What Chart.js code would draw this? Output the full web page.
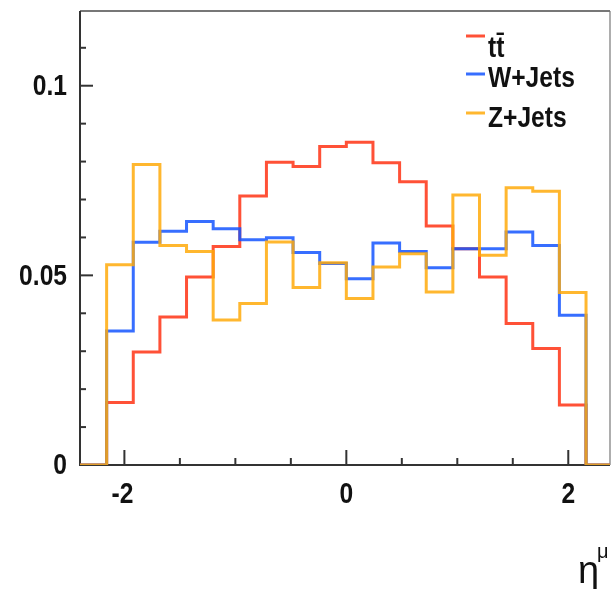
<!DOCTYPE html>
<html>
<head>
<meta charset="utf-8">
<script src="https://cdn.jsdelivr.net/npm/chart.js@4.4.1/dist/chart.umd.min.js"></script>
<style>
html,body{margin:0;padding:0;background:#fff;}
#wrap{width:612px;height:589px;position:relative;}
</style>
</head>
<body>
<div id="wrap"><canvas id="c" width="612" height="589"></canvas></div>
<script>
// Bin low edges of eta^mu histogram (width 0.24)
const binLowEdges = [-2.4,-2.16,-1.92,-1.68,-1.44,-1.2,-0.96,-0.72,-0.48,-0.24,0,0.24,0.48,0.72,0.96,1.2,1.44,1.68,1.92,2.16];
const upperEdge = 2.4;
const seriesLabels = ["t\u0074\u0304", "W+Jets", "Z+Jets"];
const ttbar  = [0,0.0165,0.0298,0.0390,0.0496,0.0576,0.0709,0.0798,0.0787,0.0840,0.0851,0.0797,0.0747,0.0630,0.0570,0.0496,0.0373,0.0307,0.0158,0];
const wjets  = [0,0.0353,0.0587,0.0616,0.0642,0.0623,0.0594,0.0599,0.0560,0.0531,0.0491,0.0585,0.0563,0.0520,0.0570,0.0570,0.0614,0.0579,0.0395,0];
const zjets  = [0,0.0528,0.0792,0.0579,0.0563,0.0382,0.0426,0.0588,0.0468,0.0533,0.0439,0.0522,0.0557,0.0456,0.0712,0.0553,0.0731,0.0722,0.0455,0];
const xTickLabels = ["-2", "0", "2"];
const yTickLabels = ["0", "0.05", "0.1"];

function toSteps(vals){
  const pts = binLowEdges.map((x,i)=>({x:x, y:vals[i]}));
  pts.push({x:upperEdge, y:vals[vals.length-1]});
  return pts;
}

const colors = ["rgba(255,50,20,0.85)","rgba(20,85,255,0.85)","rgba(255,170,10,0.85)"];
const FONT = '"Liberation Sans", Arial, sans-serif';
const SQ = 0.82; // horizontal squeeze of text

function narrowText(ctx, txt, x, y, align){
  ctx.save();
  ctx.translate(x, y);
  ctx.scale(SQ, 1);
  ctx.textAlign = align;
  ctx.fillText(txt, 0, 0);
  ctx.restore();
}

const decor = {
  id:'decor',
  beforeDatasetsDraw(chart){
    const ctx = chart.ctx, a = chart.chartArea;
    const xs = chart.scales.x, ys = chart.scales.y;
    ctx.save();
    // frame
    ctx.strokeStyle = '#777'; ctx.lineWidth = 2;
    ctx.beginPath(); ctx.moveTo(a.left, a.top); ctx.lineTo(a.right, a.top); ctx.stroke();
    ctx.lineWidth = 1.2;
    ctx.beginPath(); ctx.moveTo(a.right, a.top); ctx.lineTo(a.right, a.bottom); ctx.stroke();
    ctx.strokeStyle = '#333'; ctx.lineWidth = 2;
    ctx.beginPath(); ctx.moveTo(a.left, a.top); ctx.lineTo(a.left, a.bottom); ctx.lineTo(a.right, a.bottom); ctx.stroke();
    // y ticks (inside), minor every 0.01
    for (let k=0;k<=11;k++){
      const v = k*0.01; const y = ys.getPixelForValue(v);
      const len = (k%5===0) ? 13 : 6;
      ctx.beginPath(); ctx.moveTo(a.left, y); ctx.lineTo(a.left+len, y); ctx.stroke();
    }
    // x ticks (inside), minor every 0.5
    for (let k=-4;k<=4;k++){
      const v = k*0.5; const x = xs.getPixelForValue(v);
      const len = (k%4===0) ? 15 : 7;
      ctx.beginPath(); ctx.moveTo(x, a.bottom); ctx.lineTo(x, a.bottom-len); ctx.stroke();
    }
    // tick labels
    ctx.fillStyle = '#111';
    ctx.font = 'bold 30px ' + FONT;
    ctx.textBaseline = 'middle';
    yTickLabels.forEach(t=>{ narrowText(ctx, t, 67, ys.getPixelForValue(parseFloat(t)) + 1, 'right'); });
    ctx.textBaseline = 'alphabetic';
    xTickLabels.forEach(t=>{ narrowText(ctx, t, xs.getPixelForValue(parseFloat(t)) + (t[0]==='-'?-2:0), 503, 'center'); });
    ctx.restore();
  },
  afterDraw(chart){
    const ctx = chart.ctx;
    ctx.save();
    // legend
    const lineY = [36, 74, 113];
    const textY = [57, 87, 127];
    chart.data.datasets.forEach((ds,i)=>{
      ctx.strokeStyle = ds.borderColor; ctx.lineWidth = 3;
      ctx.beginPath(); ctx.moveTo(466, lineY[i]); ctx.lineTo(485, lineY[i]); ctx.stroke();
      ctx.fillStyle = '#111'; ctx.font = 'bold 30px ' + FONT;
      ctx.textBaseline = 'alphabetic';
      narrowText(ctx, ds.label, 488, textY[i], 'left');
    });
    // axis title eta^mu
    ctx.fillStyle = '#111';
    ctx.font = '38px ' + FONT;
    ctx.textAlign = 'left';
    ctx.fillText('\u03b7', 578, 583);
    ctx.font = '20px ' + FONT;
    ctx.fillText('\u03bc', 597, 558);
    ctx.restore();
  }
};

new Chart(document.getElementById('c'), {
  type:'line',
  data:{
    datasets:[
      {label:seriesLabels[0], data:toSteps(ttbar), borderColor:colors[0], order:2},
      {label:seriesLabels[1], data:toSteps(wjets), borderColor:colors[1], order:1},
      {label:seriesLabels[2], data:toSteps(zjets), borderColor:colors[2], order:0}
    ].map(d=>Object.assign(d,{stepped:'before', borderWidth:3, pointRadius:0, fill:false, tension:0}))
  },
  options:{
    responsive:false, animation:false,
    layout:{padding:{left:0,right:2,top:11,bottom:0}},
    plugins:{legend:{display:false}, tooltip:{enabled:false}},
    scales:{
      x:{type:'linear', min:-2.4, max:2.376,
        grid:{display:false, drawTicks:false}, border:{display:false},
        ticks:{display:false},
        afterFit(s){ s.height = 124; s.paddingLeft = 0; s.paddingRight = 0; }
      },
      y:{type:'linear', min:0, max:0.1197,
        grid:{display:false, drawTicks:false}, border:{display:false},
        ticks:{display:false},
        afterFit(s){ s.width = 80; s.paddingTop = 0; s.paddingBottom = 0; }
      }
    }
  },
  plugins:[decor]
});
</script>
</body>
</html>
